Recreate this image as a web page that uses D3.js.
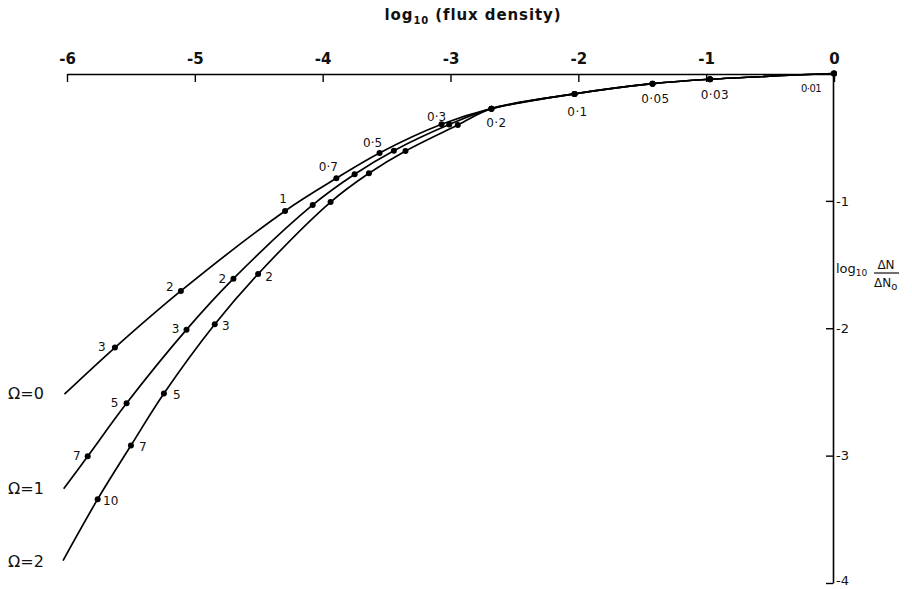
<!DOCTYPE html>
<html>
<head>
<meta charset="utf-8">
<script src="https://cdn.jsdelivr.net/npm/d3@7/dist/d3.min.js"></script>
<style>
  body { margin: 0; background: #fff; }
  svg { display: block; font-family: "DejaVu Sans", "Liberation Sans", sans-serif; }
</style>
</head>
<body>
<svg id="chart" width="912" height="589"></svg>
<script>
// ---------- data ----------
const xTicks = [-6, -5, -4, -3, -2, -1, 0];
const yTicks = [-1, -2, -3, -4];

// shared part of all three curves (redshift labels, log flux, log dN/dN0)
const commonZ = ["0·01", "0·03", "0·05", "0·1", "0·2"];
const commonX = [0, -0.97, -1.42, -2.03, -2.68];
const commonY = [0, -0.045, -0.08, -0.16, -0.276];

// Omega = 0
const omega0Z = ["0·3", "0·5", "0·7", "1", "2", "3"];
const omega0X = [-3.07, -3.555, -3.893, -4.294, -5.109, -5.625];
const omega0Y = [-0.399, -0.624, -0.823, -1.079, -1.707, -2.152];
const omega0End = [-6.02, -2.518];

// Omega = 1
const omega1Z = ["0·3", "0·5", "0·7", "1", "2", "3", "5", "7"];
const omega1X = [-3.01, -3.443, -3.75, -4.078, -4.698, -5.065, -5.534, -5.838];
const omega1Y = [-0.401, -0.606, -0.791, -1.032, -1.611, -2.011, -2.589, -3.005];
const omega1End = [-6.026, -3.261];

// Omega = 2
const omega2Z = ["0·3", "0·5", "0·7", "1", "2", "3", "5", "7", "10"];
const omega2X = [-2.943, -3.352, -3.638, -3.938, -4.505, -4.844, -5.242, -5.5, -5.76];
const omega2Y = [-0.404, -0.608, -0.783, -1.009, -1.574, -1.969, -2.513, -2.921, -3.342];
const omega2End = [-6.031, -3.824];

const curveNames = ["Ω=0", "Ω=1", "Ω=2"];

// which redshift labels are written next to each curve
const shownLabels = [
  ["0·3", "0·5", "0·7", "1", "2", "3"],
  ["2", "3", "5", "7"],
  ["2", "3", "5", "7", "10"]
];

// ---------- layout / style ----------
const svg = d3.select("#chart");
const x = d3.scaleLinear().domain([-6, 0]).range([67, 834]);
const y = d3.scaleLinear().domain([0, -4]).range([73.5, 583]);

const common = commonZ.map((z, i) => ({ z, x: commonX[i], y: commonY[i] }));
function build(Z, X, Y, end) {
  const pts = common.concat(Z.map((z, i) => ({ z, x: X[i], y: Y[i] })));
  pts.push({ z: null, x: end[0], y: end[1] });
  return pts;
}
const curves = [
  build(omega0Z, omega0X, omega0Y, omega0End),
  build(omega1Z, omega1X, omega1Y, omega1End),
  build(omega2Z, omega2X, omega2Y, omega2End)
];

// label offsets (style)
const commonOffsets = { "0·01": [-23, 15], "0·03": [5, 16], "0·05": [3, 15], "0·1": [3, 18], "0·2": [5, 14] };
const curveOffsets = [
  { "0·3": [-5, -7], "0·5": [-7, -10], "0·7": [-8, -11], "1": [-2, -12], "2": [-11, -4], "3": [-13, -1] },
  { "2": [-11, 0], "3": [-11, -1], "5": [-12, 0], "7": [-11, 0] },
  { "2": [11, 3], "3": [11, 2], "5": [13, 1], "7": [12, 1], "10": [13, 2] }
];
const nameY = [393, 488, 561];

// top axis
const topAxis = d3.axisTop(x).tickValues(xTicks).tickSize(-8).tickSizeOuter(0)
  .tickFormat(d => d === 0 ? "0" : "-" + Math.abs(d));
const gx = svg.append("g").attr("transform", `translate(0,${y(0) + 0.5})`).call(topAxis);
gx.select(".domain").attr("stroke", "#000").attr("stroke-width", 1.6);
gx.selectAll(".tick line").attr("stroke", "#000").attr("stroke-width", 1.4);
gx.selectAll(".tick text").attr("y", -10).attr("dy", 0)
  .attr("font-size", 15).attr("font-weight", "bold").attr("fill", "#111")
  .attr("font-family", "DejaVu Sans");

// right axis
const rightAxis = d3.axisRight(y).tickValues(yTicks).tickSize(-7).tickSizeOuter(0)
  .tickFormat(d => "-" + Math.abs(d));
const gy = svg.append("g").attr("transform", `translate(${x(0) - 1},0)`).call(rightAxis);
gy.select(".domain").attr("stroke", "#000").attr("stroke-width", 1.6);
gy.selectAll(".tick line").attr("stroke", "#000").attr("stroke-width", 1.4);
gy.selectAll(".tick text").attr("x", 3).attr("font-size", 13).attr("fill", "#111")
  .attr("font-family", "DejaVu Sans")
  .attr("dy", d => d === -4 ? "0.1em" : "0.32em");

// axis titles
const t = svg.append("text").attr("x", 473).attr("y", 20).attr("text-anchor", "middle")
  .attr("font-size", 15).attr("font-weight", "bold").attr("fill", "#111").attr("letter-spacing", 0.9);
t.append("tspan").text("log");
t.append("tspan").attr("font-size", 10).attr("dy", 4).text("10");
t.append("tspan").attr("dy", -4).text(" (flux density)");

const r = svg.append("g").attr("fill", "#111");
const rl = r.append("text").attr("x", 836).attr("y", 273).attr("font-size", 13);
rl.append("tspan").text("log");
rl.append("tspan").attr("font-size", 9).attr("dy", 3).text("10");
r.append("text").attr("x", 886).attr("y", 269).attr("text-anchor", "middle").attr("font-size", 12).text("ΔN");
r.append("line").attr("x1", 874).attr("x2", 899).attr("y1", 273).attr("y2", 273).attr("stroke", "#111").attr("stroke-width", 1.2);
const den = r.append("text").attr("x", 874).attr("y", 287).attr("font-size", 12);
den.append("tspan").text("ΔN");
den.append("tspan").attr("font-size", 10).attr("dy", 3).text("o");

// curves
const line = d3.line().x(d => x(d.x)).y(d => y(d.y)).curve(d3.curveCatmullRom.alpha(0.5));
curves.forEach((pts, ci) => {
  svg.append("path").attr("d", line(pts)).attr("fill", "none")
    .attr("stroke", "#000").attr("stroke-width", 1.7);
  svg.append("g").selectAll("circle").data(pts.filter(p => p.z !== null)).join("circle")
    .attr("cx", d => x(d.x)).attr("cy", d => y(d.y)).attr("r", 3).attr("fill", "#000");
  const lab = pts.filter(p => p.z !== null && shownLabels[ci].includes(p.z) && !commonZ.includes(p.z));
  svg.append("g").selectAll("text").data(lab).join("text")
    .attr("x", d => x(d.x) + curveOffsets[ci][d.z][0])
    .attr("y", d => y(d.y) + curveOffsets[ci][d.z][1])
    .attr("text-anchor", "middle").attr("dominant-baseline", "central")
    .attr("font-size", 12).attr("fill", "#111").text(d => d.z);
  svg.append("text").attr("x", 8).attr("y", nameY[ci]).attr("dominant-baseline", "central")
    .attr("font-size", 16).attr("fill", "#111").text(curveNames[ci]);
});

// common labels
svg.append("g").selectAll("text").data(common).join("text")
  .attr("x", d => x(d.x) + commonOffsets[d.z][0])
  .attr("y", d => y(d.y) + commonOffsets[d.z][1])
  .attr("text-anchor", "middle").attr("dominant-baseline", "central")
  .attr("font-size", d => d.z === "0·01" ? 10 : 12)
  .attr("letter-spacing", d => d.z === "0·01" ? -0.6 : 0.4)
  .attr("fill", "#111").text(d => d.z);
</script>
</body>
</html>
